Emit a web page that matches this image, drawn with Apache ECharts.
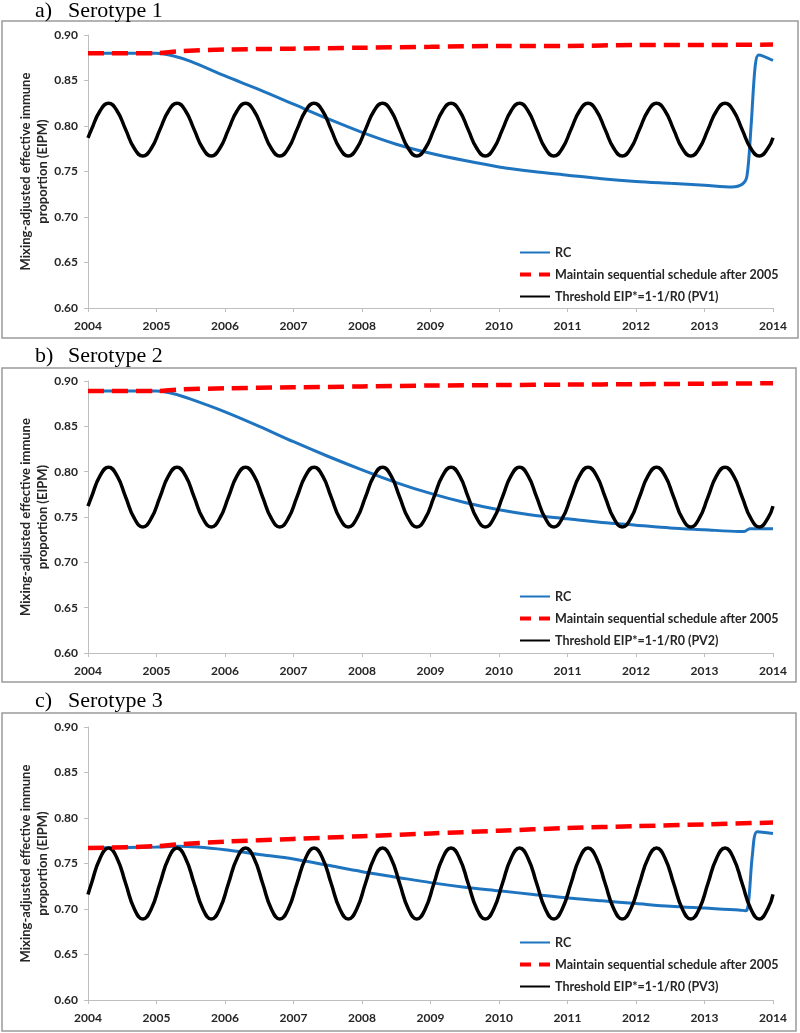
<!DOCTYPE html>
<html>
<head>
<meta charset="utf-8">
<script src="https://cdn.jsdelivr.net/npm/echarts@6/dist/echarts.min.js"></script>
<style>html,body{margin:0;padding:0;background:#fff;}#c{width:800px;height:1033px;}</style>
</head>
<body>
<div id="c"></div>
<script>
// ---------- DATA ----------
const xTicks = [2004, 2005, 2006, 2007, 2008, 2009, 2010, 2011, 2012, 2013, 2014];
const panelTitles = ['a)', 'b)', 'c)'];
const panelNames = ['Serotype 1', 'Serotype 2', 'Serotype 3'];
const nameRC = 'RC';
const nameMaintain = 'Maintain sequential schedule after 2005';
const thresholdNames = ['Threshold EIP*=1-1/R0 (PV1)', 'Threshold EIP*=1-1/R0 (PV2)', 'Threshold EIP*=1-1/R0 (PV3)'];

// RC (blue) curves
const rcYearsA = [2004, 2004.5, 2005, 2005.25, 2005.5, 2006, 2006.5, 2007, 2007.5, 2008, 2008.5, 2009, 2009.5, 2010, 2010.5, 2011, 2011.5, 2012, 2012.5, 2013, 2013.4, 2013.55, 2013.62, 2013.68, 2013.74, 2013.79, 2014];
const rcValsA  = [0.880, 0.880, 0.880, 0.877, 0.871, 0.855, 0.840, 0.824, 0.808, 0.793, 0.780, 0.770, 0.762, 0.755, 0.750, 0.746, 0.742, 0.739, 0.737, 0.735, 0.733, 0.736, 0.745, 0.800, 0.866, 0.878, 0.872];
const rcYearsB = [2004, 2004.5, 2005, 2005.25, 2005.5, 2006, 2006.5, 2007, 2007.5, 2008, 2008.5, 2009, 2009.5, 2010, 2010.5, 2011, 2011.5, 2012, 2012.5, 2013, 2013.5, 2013.58, 2013.66, 2014];
const rcValsB  = [0.889, 0.889, 0.889, 0.886, 0.880, 0.866, 0.850, 0.833, 0.817, 0.802, 0.788, 0.776, 0.766, 0.758, 0.752, 0.748, 0.744, 0.741, 0.738, 0.736, 0.734, 0.734, 0.737, 0.737];
const rcYearsC = [2004, 2005, 2005.3, 2005.6, 2006, 2006.5, 2007, 2007.5, 2008, 2008.5, 2009, 2009.5, 2010, 2010.5, 2011, 2011.5, 2012, 2012.5, 2013, 2013.5, 2013.6, 2013.64, 2013.7, 2013.77, 2014];
const rcValsC  = [0.767, 0.768, 0.769, 0.768, 0.765, 0.760, 0.755, 0.748, 0.741, 0.735, 0.729, 0.724, 0.720, 0.716, 0.712, 0.709, 0.706, 0.703, 0.701, 0.699, 0.698, 0.705, 0.760, 0.785, 0.783];

// Maintain sequential schedule (red dashed)
const mtYears = [2004, 2005, 2005.3, 2006, 2007, 2008, 2009, 2010, 2011, 2012, 2013, 2014];
const mtValsA = [0.880, 0.880, 0.882, 0.884, 0.885, 0.886, 0.887, 0.888, 0.888, 0.889, 0.889, 0.8895];
const mtValsB = [0.889, 0.889, 0.8905, 0.892, 0.893, 0.894, 0.895, 0.8955, 0.896, 0.8965, 0.897, 0.8975];
const mtValsC = [0.767, 0.769, 0.771, 0.774, 0.777, 0.780, 0.783, 0.786, 0.789, 0.791, 0.793, 0.795];

// Threshold (black) oscillation, sampled points
const thrYears = [2004,
 2004.05,2004.175,2004.3,2004.425,2004.55,2004.675,2004.8,2004.925,
 2005.05,2005.175,2005.3,2005.425,2005.55,2005.675,2005.8,2005.925,
 2006.05,2006.175,2006.3,2006.425,2006.55,2006.675,2006.8,2006.925,
 2007.05,2007.175,2007.3,2007.425,2007.55,2007.675,2007.8,2007.925,
 2008.05,2008.175,2008.3,2008.425,2008.55,2008.675,2008.8,2008.925,
 2009.05,2009.175,2009.3,2009.425,2009.55,2009.675,2009.8,2009.925,
 2010.05,2010.175,2010.3,2010.425,2010.55,2010.675,2010.8,2010.925,
 2011.05,2011.175,2011.3,2011.425,2011.55,2011.675,2011.8,2011.925,
 2012.05,2012.175,2012.3,2012.425,2012.55,2012.675,2012.8,2012.925,
 2013.05,2013.175,2013.3,2013.425,2013.55,2013.675,2013.8,2013.925,
 2014];
const thrValsA = [0.787,
 0.796,0.8165,0.825,0.8165,0.796,0.7755,0.767,0.7755,
 0.796,0.8165,0.825,0.8165,0.796,0.7755,0.767,0.7755,
 0.796,0.8165,0.825,0.8165,0.796,0.7755,0.767,0.7755,
 0.796,0.8165,0.825,0.8165,0.796,0.7755,0.767,0.7755,
 0.796,0.8165,0.825,0.8165,0.796,0.7755,0.767,0.7755,
 0.796,0.8165,0.825,0.8165,0.796,0.7755,0.767,0.7755,
 0.796,0.8165,0.825,0.8165,0.796,0.7755,0.767,0.7755,
 0.796,0.8165,0.825,0.8165,0.796,0.7755,0.767,0.7755,
 0.796,0.8165,0.825,0.8165,0.796,0.7755,0.767,0.7755,
 0.796,0.8165,0.825,0.8165,0.796,0.7755,0.767,0.7755,
 0.787];
const thrValsB = [0.762,
 0.772,0.7953,0.805,0.7953,0.772,0.7487,0.739,0.7487,
 0.772,0.7953,0.805,0.7953,0.772,0.7487,0.739,0.7487,
 0.772,0.7953,0.805,0.7953,0.772,0.7487,0.739,0.7487,
 0.772,0.7953,0.805,0.7953,0.772,0.7487,0.739,0.7487,
 0.772,0.7953,0.805,0.7953,0.772,0.7487,0.739,0.7487,
 0.772,0.7953,0.805,0.7953,0.772,0.7487,0.739,0.7487,
 0.772,0.7953,0.805,0.7953,0.772,0.7487,0.739,0.7487,
 0.772,0.7953,0.805,0.7953,0.772,0.7487,0.739,0.7487,
 0.772,0.7953,0.805,0.7953,0.772,0.7487,0.739,0.7487,
 0.772,0.7953,0.805,0.7953,0.772,0.7487,0.739,0.7487,
 0.762];
const thrValsC = [0.716,
 0.728,0.7556,0.767,0.7556,0.728,0.7004,0.689,0.7004,
 0.728,0.7556,0.767,0.7556,0.728,0.7004,0.689,0.7004,
 0.728,0.7556,0.767,0.7556,0.728,0.7004,0.689,0.7004,
 0.728,0.7556,0.767,0.7556,0.728,0.7004,0.689,0.7004,
 0.728,0.7556,0.767,0.7556,0.728,0.7004,0.689,0.7004,
 0.728,0.7556,0.767,0.7556,0.728,0.7004,0.689,0.7004,
 0.728,0.7556,0.767,0.7556,0.728,0.7004,0.689,0.7004,
 0.728,0.7556,0.767,0.7556,0.728,0.7004,0.689,0.7004,
 0.728,0.7556,0.767,0.7556,0.728,0.7004,0.689,0.7004,
 0.728,0.7556,0.767,0.7556,0.728,0.7004,0.689,0.7004,
 0.716];

// ---------- LAYOUT ----------
const panels = [
  {gridTop: 35, gridH: 273, box: [2, 21, 796, 317], titleY: 11, legTop: 241,
   rc: [rcYearsA, rcValsA], mt: mtValsA, thr: thrValsA},
  {gridTop: 381, gridH: 272, box: [2, 368, 794, 314], titleY: 356, legTop: 585,
   rc: [rcYearsB, rcValsB], mt: mtValsB, thr: thrValsB},
  {gridTop: 727, gridH: 273, box: [2, 713, 794, 318], titleY: 701, legTop: 931,
   rc: [rcYearsC, rcValsC], mt: mtValsC, thr: thrValsC}
];

const zip = (xs, ys) => xs.map((x, i) => [x, ys[i]]);
const labelFont = {fontFamily: 'Lato', fontWeight: 'bold', fontSize: 12, color: '#262626'};
const axisGray = '#bfbfbf';

const grids = [], xAxes = [], yAxes = [], series = [], legends = [], graphics = [];
panels.forEach((p, i) => {
  grids.push({left: 88, right: 27, top: p.gridTop, height: p.gridH});
  xAxes.push({
    type: 'value', gridIndex: i, min: xTicks[0], max: xTicks[xTicks.length - 1], interval: 1,
    axisLine: {lineStyle: {color: axisGray, width: 1}},
    axisTick: {show: true, length: 4, lineStyle: {color: axisGray}},
    splitLine: {show: false},
    axisLabel: Object.assign({margin: 12, formatter: v => String(Math.round(v))}, labelFont)
  });
  yAxes.push({
    type: 'value', gridIndex: i, min: 0.6, max: 0.9, interval: 0.05,
    axisLine: {show: true, lineStyle: {color: axisGray, width: 1}},
    axisTick: {show: true, length: 4, lineStyle: {color: axisGray}},
    splitLine: {show: false},
    axisLabel: Object.assign({margin: 10, formatter: v => v.toFixed(2)}, labelFont),
    name: 'Mixing-adjusted effective immune\nproportion (EIPM)',
    nameLocation: 'middle', nameGap: 37, nameMoveOverlap: false,
    nameTextStyle: {fontFamily: 'Lato', fontWeight: 'bold', fontSize: 13, color: '#262626', lineHeight: 17}
  });
  series.push({
    name: nameRC, type: 'line', xAxisIndex: i, yAxisIndex: i, data: zip(p.rc[0], p.rc[1]),
    symbol: 'none', smooth: 0.3, lineStyle: {color: '#1f74c0', width: 3}, itemStyle: {color: '#1f74c0'}, z: 2
  });
  series.push({
    name: nameMaintain, type: 'line', xAxisIndex: i, yAxisIndex: i, data: zip(mtYears, p.mt),
    symbol: 'none', smooth: 0.3, lineStyle: {color: '#ff0000', width: 4.5, type: [16, 8]}, itemStyle: {color: '#ff0000'}, z: 4
  });
  series.push({
    name: thresholdNames[i], type: 'line', xAxisIndex: i, yAxisIndex: i, data: zip(thrYears, p.thr),
    symbol: 'none', smooth: 0.5, lineStyle: {color: '#000000', width: 3.5}, itemStyle: {color: '#000000'}, z: 3
  });
  legends.push({
    orient: 'vertical', left: 513, top: p.legTop, itemWidth: 30, itemHeight: 14, itemGap: 9,
    selectedMode: false,
    itemStyle: {opacity: 0},
    textStyle: {fontFamily: 'Lato', fontWeight: 'bold', fontSize: 12.5, color: '#262626'},
    data: [
      {name: nameRC},
      {name: nameMaintain, lineStyle: {type: [11, 8], width: 4}},
      {name: thresholdNames[i]}
    ]
  });
  graphics.push({
    type: 'rect', shape: {x: p.box[0], y: p.box[1], width: p.box[2], height: p.box[3]},
    style: {fill: 'none', stroke: '#9a9a9a', lineWidth: 1.5}, silent: true, z: -1
  });
  graphics.push({
    type: 'text', x: 35, y: p.titleY,
    style: {text: panelTitles[i], font: '22px "Liberation Serif"', fill: '#000', verticalAlign: 'middle'}
  });
  graphics.push({
    type: 'text', x: 68, y: p.titleY,
    style: {text: panelNames[i], font: '22px "Liberation Serif"', fill: '#000', verticalAlign: 'middle'}
  });
});

const chart = echarts.init(document.getElementById('c'), null, {renderer: 'canvas'});
chart.setOption({
  animation: false,
  backgroundColor: '#ffffff',
  grid: grids, xAxis: xAxes, yAxis: yAxes, series: series, legend: legends, graphic: graphics
});
</script>
</body>
</html>
